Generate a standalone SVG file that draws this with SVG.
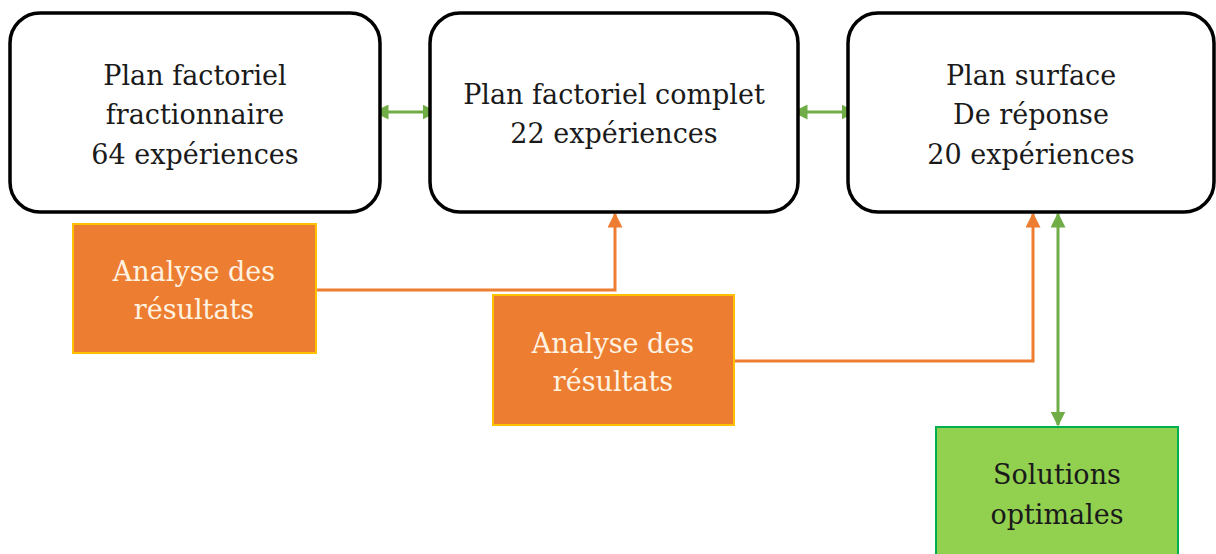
<svg xmlns="http://www.w3.org/2000/svg" width="1216" height="554" viewBox="0 0 1216 554">
  <style>
    .plan { fill: #ffffff; stroke: #000000; stroke-width: 3.5; }
    .analyse { fill: #ED7D31; stroke: #FFC000; stroke-width: 2; }
    .solution { fill: #92D050; stroke: #00B050; stroke-width: 2; }
    .t { font-family: "DejaVu Serif", "Liberation Serif", serif; font-size: 27px; text-anchor: middle; }
    .dark { fill: #1a1a1a; }
    .light { fill: #FFF2E0; }
    .green { fill: none; stroke: #70AD47; stroke-width: 3; }
    .orange { fill: none; stroke: #ED7D31; stroke-width: 3; }
  </style>
  <defs>
    <marker id="gHead" viewBox="0 0 10 10" refX="9" refY="5" markerWidth="5" markerHeight="5" orient="auto-start-reverse" markerUnits="strokeWidth">
      <path d="M0,0 L10,5 L0,10 Z" fill="#70AD47"/>
    </marker>
    <marker id="oHead" viewBox="0 0 10 10" refX="9" refY="5" markerWidth="5" markerHeight="5" orient="auto" markerUnits="strokeWidth">
      <path d="M0,0 L10,5 L0,10 Z" fill="#ED7D31"/>
    </marker>
  </defs>

  <g id="connectors">
    <path class="green" d="M375,112 L436,112" marker-start="url(#gHead)" marker-end="url(#gHead)"/>
    <path class="green" d="M794,112 L855,112" marker-start="url(#gHead)" marker-end="url(#gHead)"/>
    <path class="orange" d="M316,290 L615,290 L615,214" marker-end="url(#oHead)"/>
    <path class="orange" d="M734,361 L1033,361 L1033,214" marker-end="url(#oHead)"/>
    <path class="green" d="M1058,214 L1058,425" marker-start="url(#gHead)" marker-end="url(#gHead)"/>
  </g>

  <g id="plan-fractionnaire">
    <rect class="plan" x="10" y="13" width="370" height="199" rx="30"/>
    <text class="t dark" x="195" y="85">Plan factoriel</text>
    <text class="t dark" x="195" y="124">fractionnaire</text>
    <text class="t dark" x="195" y="164">64 expériences</text>
  </g>

  <g id="plan-complet">
    <rect class="plan" x="430" y="13" width="368" height="199" rx="30"/>
    <text class="t dark" x="614" y="104">Plan factoriel complet</text>
    <text class="t dark" x="614" y="143">22 expériences</text>
  </g>

  <g id="plan-surface">
    <rect class="plan" x="848" y="13" width="366" height="199" rx="30"/>
    <text class="t dark" x="1031" y="85">Plan surface</text>
    <text class="t dark" x="1031" y="124">De réponse</text>
    <text class="t dark" x="1031" y="164">20 expériences</text>
  </g>

  <g id="analyse-1">
    <rect class="analyse" x="73" y="224" width="243" height="129"/>
    <text class="t light" x="194" y="281">Analyse des</text>
    <text class="t light" x="194" y="319">résultats</text>
  </g>

  <g id="analyse-2">
    <rect class="analyse" x="493" y="295" width="241" height="130"/>
    <text class="t light" x="613" y="353">Analyse des</text>
    <text class="t light" x="613" y="391">résultats</text>
  </g>

  <g id="solutions">
    <rect class="solution" x="936" y="427" width="242" height="140"/>
    <text class="t dark" x="1057" y="484">Solutions</text>
    <text class="t dark" x="1057" y="524">optimales</text>
  </g>
</svg>
